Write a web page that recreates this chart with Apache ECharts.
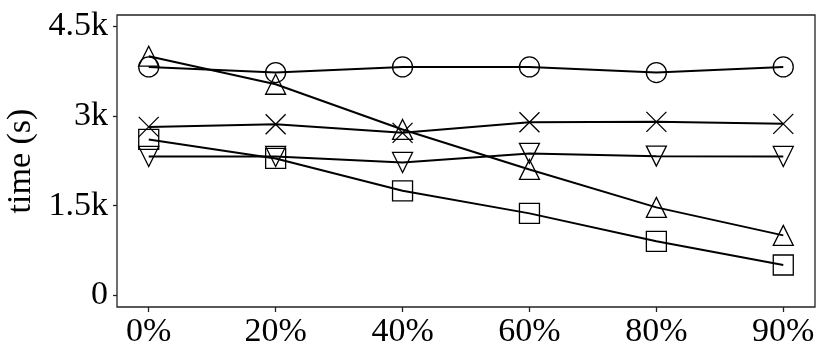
<!DOCTYPE html>
<html>
<head>
<meta charset="utf-8">
<script src="https://cdn.jsdelivr.net/npm/echarts@6/dist/echarts.min.js"></script>
<style>html,body{margin:0;padding:0;background:#fff}#c{width:830px;height:359px}</style>
</head>
<body>
<div id="c"></div>
<script>
const categories = ['0%', '20%', '40%', '60%', '80%', '90%'];
const yTickValues = [0, 1500, 3000, 4500];
const yTickLabels = ['0', '1.5k', '3k', '4.5k'];
const circleSeries = [3823, 3729, 3823, 3823, 3729, 3823];
const triUpSeries = [4002, 3533, 2776, 2107, 1472, 1003];
const crossSeries = [2819, 2864, 2719, 2898, 2903, 2870];
const triDownSeries = [2324, 2324, 2224, 2375, 2329, 2324];
const squareSeries = [2609, 2291, 1749, 1371, 903, 507];

const FONT = 'Liberation Serif';
function mk(values, symbol, rotate) {
  return {
    type: 'line',
    data: values.map((v, i) => [i, v]),
    symbol: symbol,
    symbolSize: 20,
    symbolRotate: rotate || 0,
    showAllSymbol: true,
    lineStyle: { color: '#000', width: 2 },
    itemStyle: { color: 'none', borderColor: '#000', borderWidth: 1.3 },
    emphasis: { disabled: true },
    animation: false,
    z: 2
  };
}
const chart = echarts.init(document.getElementById('c'));
chart.setOption({
  backgroundColor: '#fff',
  animation: false,
  grid: { left: 117, right: 15, top: 15, bottom: 52, containLabel: false, outerBoundsMode: 'none', show: true, borderColor: '#222', borderWidth: 1.3, backgroundColor: 'transparent' },
  xAxis: {
    type: 'value', min: -0.25, max: 5.25,
    axisLine: { show: false, onZero: false },
    splitLine: { show: false },
    axisTick: { show: true, customValues: categories.map((c, i) => i), length: 5, lineStyle: { color: '#222', width: 1.3 } },
    axisLabel: { customValues: categories.map((c, i) => i), formatter: v => categories[Math.round(v)], fontFamily: FONT, fontSize: 34, color: '#000', margin: 8 }
  },
  yAxis: {
    type: 'value', min: -196, max: 4692,
    name: 'time (s)', nameLocation: 'middle', nameGap: 77, nameRotate: 90,
    nameTextStyle: { fontFamily: FONT, fontSize: 34, color: '#000' },
    axisLine: { show: false, onZero: false },
    splitLine: { show: false },
    axisTick: { show: true, customValues: yTickValues, length: 4, lineStyle: { color: '#222', width: 1.3 } },
    axisLabel: { customValues: yTickValues, formatter: v => yTickLabels[yTickValues.indexOf(v)], fontFamily: FONT, fontSize: 34, color: '#000', margin: 9 }
  },
  series: [
    mk(circleSeries, 'circle'),
    mk(triUpSeries, 'triangle'),
    mk(crossSeries, 'path://M0,0L10,10M10,0L0,10'),
    mk(triDownSeries, 'triangle', 180),
    mk(squareSeries, 'rect')
  ]
});
</script>
</body>
</html>
